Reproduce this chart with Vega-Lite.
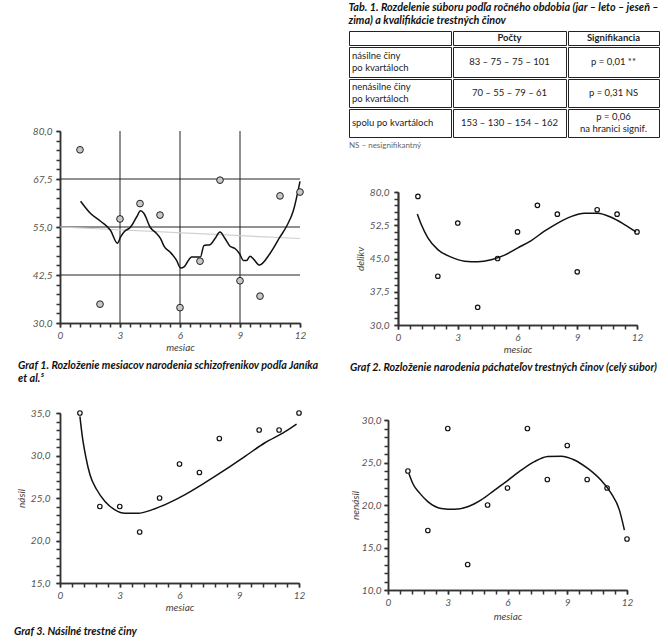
{
  "$schema": "https://vega.github.io/schema/vega-lite/v6.json",
  "padding": {"left": 14, "top": 2, "right": 0, "bottom": 0},
  "background": "white",
  "config": {
    "view": {"stroke": null},
    "font": "Lato",
    "locale": {"number": {"decimal": ",", "thousands": " ", "grouping": [3], "currency": ["", ""]}},
    "axis": {"labelFont": "Lato", "labelFontStyle": "italic", "labelFontSize": 10, "labelColor": "#555", "titleFont": "Lato", "titleFontStyle": "italic", "titleFontWeight": "normal", "titleFontSize": 10, "titleColor": "#444", "grid": false, "labelFlush": false},
    "title": {"font": "Lato", "fontSize": 10.8, "fontStyle": "italic", "fontWeight": "bold", "color": "#111", "anchor": "start"},
    "text": {"font": "Lato", "fontSize": 9.5, "color": "#222"}
  },
  "hconcat": [
    {
      "vconcat": [
        {"width": 1, "height": 95, "data": {"values": []}, "mark": {"type": "point", "opacity": 0}},
        {
          "width": 240, "height": 192,
          "title": {"text": ["Graf 1. Rozloženie mesiacov narodenia schizofrenikov podľa Janíka", "et al.⁵"], "orient": "bottom", "anchor": "start", "frame": "group", "dx": -42, "offset": 8, "lineHeight": 12.5},
          "resolve": {"axis": {"x": "independent", "y": "independent"}},
          "layer": [
            {"data": {"values": []}, "mark": {"type": "point"},
             "encoding": {
               "x": {"field": "m", "type": "quantitative", "scale": {"domain": [0, 12], "nice": false},
                 "axis": {"orient": "bottom", "title": null, "labels": false, "domain": true, "ticks": true, "domainColor": "#333", "domainWidth": 1.5, "tickColor": "#333", "tickWidth": 1.5, "tickSize": 4,
                   "values": [0,0.5,1,1.5,2,2.5,3,3.5,4,4.5,5,5.5,6,6.5,7,7.5,8,8.5,9,9.5,10,10.5,11,11.5,12]}},
               "y": {"field": "v", "type": "quantitative", "scale": {"domain": [30, 80], "nice": false, "zero": false},
                 "axis": {"orient": "left", "title": null, "labels": false, "domain": true, "ticks": true, "domainColor": "#333", "domainWidth": 1.5, "tickColor": "#333", "tickWidth": 1.5, "tickSize": 4,
                   "values": [30,32.5,35,37.5,40,42.5,45,47.5,50,52.5,55,57.5,60,62.5,65,67.5,70,72.5,75,77.5,80]}}}},
            {"data": {"values": []}, "mark": {"type": "point"},
             "encoding": {
               "x": {"field": "m", "type": "quantitative",
                 "axis": {"orient": "bottom", "title": "mesiac", "domain": true, "ticks": true, "domainColor": "#333", "domainWidth": 1.5, "tickColor": "#333", "tickWidth": 1.5, "tickSize": 4, "values": [0, 3, 6, 9, 12], "format": "d", "labelPadding": 3, "titlePadding": 2}},
               "y": {"field": "v", "type": "quantitative",
                 "axis": {"orient": "left", "title": null, "domain": true, "ticks": true, "domainColor": "#333", "domainWidth": 1.5, "tickColor": "#333", "tickWidth": 1.5, "tickSize": 4, "values": [30, 42.5, 55, 67.5, 80], "format": ".1f", "labelPadding": 4}}}},
            {"data": {"values": [{"v": 42.5}, {"v": 55}, {"v": 67.5}]}, "mark": {"type": "rule", "color": "#222", "strokeWidth": 1},
             "encoding": {"y": {"field": "v", "type": "quantitative", "axis": null}}},
            {"data": {"values": [{"m": 3}, {"m": 6}, {"m": 9}]}, "mark": {"type": "rule", "color": "#222", "strokeWidth": 1},
             "encoding": {"x": {"field": "m", "type": "quantitative", "axis": null}}},
            {"data": {"values": [{"m": 0, "v": 55.0}, {"m": 12, "v": 52.0}]}, "mark": {"type": "line", "color": "#cfcfcf", "strokeWidth": 1.2},
             "encoding": {"x": {"field": "m", "type": "quantitative", "axis": null}, "y": {"field": "v", "type": "quantitative", "axis": null}}},
            {"data": {"values": [
              {"m": 1.03, "v": 61.7}, {"m": 1.53, "v": 58.5}, {"m": 2.03, "v": 56.5}, {"m": 2.53, "v": 54.1}, {"m": 2.87, "v": 50.8},
              {"m": 3.03, "v": 52.4}, {"m": 3.2, "v": 53.7}, {"m": 3.53, "v": 55.0}, {"m": 3.83, "v": 57.6}, {"m": 4.03, "v": 59.2},
              {"m": 4.2, "v": 58.5}, {"m": 4.5, "v": 55.0}, {"m": 4.83, "v": 53.3}, {"m": 5.03, "v": 52.0}, {"m": 5.2, "v": 50.0},
              {"m": 5.5, "v": 48.5}, {"m": 5.83, "v": 46.3}, {"m": 6.03, "v": 44.3}, {"m": 6.2, "v": 44.6}, {"m": 6.37, "v": 45.9},
              {"m": 6.58, "v": 47.2}, {"m": 6.83, "v": 47.2}, {"m": 7.02, "v": 47.2}, {"m": 7.2, "v": 50.2}, {"m": 7.5, "v": 50.4},
              {"m": 7.75, "v": 52.0}, {"m": 8.0, "v": 53.7}, {"m": 8.25, "v": 52.0}, {"m": 8.5, "v": 50.0}, {"m": 8.75, "v": 49.4},
              {"m": 8.97, "v": 48.1}, {"m": 9.17, "v": 46.3}, {"m": 9.33, "v": 46.3}, {"m": 9.5, "v": 47.4}, {"m": 9.7, "v": 46.5},
              {"m": 9.97, "v": 45.1}, {"m": 10.5, "v": 48.1}, {"m": 11.0, "v": 52.4}, {"m": 11.33, "v": 55.2}, {"m": 11.67, "v": 59.3},
              {"m": 12.0, "v": 66.9}]},
             "mark": {"type": "line", "color": "#111", "strokeWidth": 1.5, "interpolate": "monotone"},
             "encoding": {"x": {"field": "m", "type": "quantitative", "axis": null}, "y": {"field": "v", "type": "quantitative", "axis": null}}},
            {"data": {"values": [
              {"m": 1, "v": 75.1}, {"m": 2, "v": 34.9}, {"m": 3, "v": 57.1}, {"m": 4, "v": 61.1}, {"m": 5, "v": 58.1}, {"m": 6, "v": 34.0},
              {"m": 7, "v": 46.1}, {"m": 8, "v": 67.2}, {"m": 9, "v": 41.0}, {"m": 10, "v": 37.0}, {"m": 11, "v": 63.1}, {"m": 12, "v": 64.1}]},
             "mark": {"type": "point", "shape": "circle", "filled": true, "fill": "#c8c8c8", "stroke": "#222", "strokeWidth": 1, "size": 45, "opacity": 1},
             "encoding": {"x": {"field": "m", "type": "quantitative", "axis": null}, "y": {"field": "v", "type": "quantitative", "axis": null}}}
          ]
        },
        {"width": 1, "height": 24, "data": {"values": []}, "mark": {"type": "point", "opacity": 0}},
        {
          "width": 239, "height": 170,
          "title": {"text": "Graf 3. Násilné trestné činy", "orient": "bottom", "anchor": "start", "frame": "group", "dx": -46, "offset": 14},
          "resolve": {"axis": {"x": "independent", "y": "independent"}},
          "layer": [
            {"data": {"values": []}, "mark": {"type": "point"},
             "encoding": {
               "x": {"field": "m", "type": "quantitative", "scale": {"domain": [0, 12], "nice": false},
                 "axis": {"orient": "bottom", "title": null, "labels": false, "domain": true, "ticks": true, "domainColor": "#333", "domainWidth": 1.5, "tickColor": "#333", "tickWidth": 1.5, "tickSize": 4,
                   "values": [0,0.6,1.2,1.8,2.4,3,3.6,4.2,4.8,5.4,6,6.6,7.2,7.8,8.4,9,9.6,10.2,10.8,11.4,12]}},
               "y": {"field": "v", "type": "quantitative", "scale": {"domain": [15, 35], "nice": false, "zero": false},
                 "axis": {"orient": "left", "title": null, "labels": false, "domain": true, "ticks": true, "domainColor": "#333", "domainWidth": 1.5, "tickColor": "#333", "tickWidth": 1.5, "tickSize": 4,
                   "values": [15,16,17,18,19,20,21,22,23,24,25,26,27,28,29,30,31,32,33,34,35]}}}},
            {"data": {"values": []}, "mark": {"type": "point"},
             "encoding": {
               "x": {"field": "m", "type": "quantitative",
                 "axis": {"orient": "bottom", "title": "mesiac", "domain": true, "ticks": true, "domainColor": "#333", "domainWidth": 1.5, "tickColor": "#333", "tickWidth": 1.5, "tickSize": 4, "values": [0, 3, 6, 9, 12], "format": "d", "labelPadding": 3, "titlePadding": 2}},
               "y": {"field": "v", "type": "quantitative",
                 "axis": {"orient": "left", "title": "násil", "domain": true, "ticks": true, "domainColor": "#333", "domainWidth": 1.5, "tickColor": "#333", "tickWidth": 1.5, "tickSize": 4, "values": [15, 20, 25, 30, 35], "format": ".1f", "labelPadding": 6, "titlePadding": 4}}}},
            {"data": {"values": [
              {"m": 1.0, "v": 34.6}, {"m": 1.12, "v": 32.25}, {"m": 1.29, "v": 29.9}, {"m": 1.51, "v": 27.7}, {"m": 1.84, "v": 26.0},
              {"m": 2.26, "v": 24.6}, {"m": 2.76, "v": 23.6}, {"m": 3.26, "v": 23.2}, {"m": 3.93, "v": 23.2}, {"m": 4.6, "v": 23.6},
              {"m": 5.44, "v": 24.4}, {"m": 6.28, "v": 25.4}, {"m": 7.28, "v": 26.8}, {"m": 8.28, "v": 28.3}, {"m": 9.29, "v": 29.9},
              {"m": 10.29, "v": 31.5}, {"m": 11.3, "v": 32.8}, {"m": 11.88, "v": 33.7}]},
             "mark": {"type": "line", "color": "#111", "strokeWidth": 1.5, "interpolate": "monotone"},
             "encoding": {"x": {"field": "m", "type": "quantitative", "axis": null}, "y": {"field": "v", "type": "quantitative", "axis": null}}},
            {"data": {"values": [
              {"m": 1, "v": 35}, {"m": 2, "v": 24}, {"m": 3, "v": 24}, {"m": 4, "v": 21}, {"m": 5, "v": 25}, {"m": 6, "v": 29},
              {"m": 7, "v": 28}, {"m": 8, "v": 32}, {"m": 10, "v": 33}, {"m": 11, "v": 33}, {"m": 12, "v": 35}]},
             "mark": {"type": "point", "shape": "circle", "filled": false, "color": "#111", "strokeWidth": 1.2, "size": 20, "opacity": 1},
             "encoding": {"x": {"field": "m", "type": "quantitative", "axis": null}, "y": {"field": "v", "type": "quantitative", "axis": null}}}
          ]
        }
      ],
      "spacing": 0
    },
    {
      "vconcat": [
        {
          "title": {"text": ["Tab. 1. Rozdelenie súboru podľa ročného obdobia (jar – leto – jeseň –", "zima) a kvalifikácie trestných činov"], "anchor": "start", "frame": "bounds", "offset": 5, "lineHeight": 12.5},
          "vconcat": [
            {"hconcat": [
              {"width": 102, "height": 14, "view": {"stroke": "#222", "strokeWidth": 1}, "data": {"values": [{"t": ""}]}, "mark": {"type": "text"}, "encoding": {"text": {"field": "t"}}},
              {"width": 113, "height": 14, "view": {"stroke": "#222", "strokeWidth": 1}, "data": {"values": [{"t": "Počty"}]}, "mark": {"type": "text", "fontWeight": "bold"}, "encoding": {"text": {"field": "t"}}},
              {"width": 91, "height": 14, "view": {"stroke": "#222", "strokeWidth": 1}, "data": {"values": [{"t": "Signifikancia"}]}, "mark": {"type": "text", "fontWeight": "bold"}, "encoding": {"text": {"field": "t"}}}
            ], "spacing": 0},
            {"hconcat": [
              {"width": 102, "height": 30, "view": {"stroke": "#222", "strokeWidth": 1}, "data": {"values": [{"t": "násilne činy\npo kvartáloch"}]}, "mark": {"type": "text", "align": "left", "x": 3, "dy": -6, "lineBreak": "\n", "lineHeight": 12}, "encoding": {"text": {"field": "t"}}},
              {"width": 113, "height": 30, "view": {"stroke": "#222", "strokeWidth": 1}, "data": {"values": [{"t": "83 – 75 – 75 – 101"}]}, "mark": {"type": "text"}, "encoding": {"text": {"field": "t"}}},
              {"width": 91, "height": 30, "view": {"stroke": "#222", "strokeWidth": 1}, "data": {"values": [{"t": "p = 0,01 **"}]}, "mark": {"type": "text"}, "encoding": {"text": {"field": "t"}}}
            ], "spacing": 0},
            {"hconcat": [
              {"width": 102, "height": 28, "view": {"stroke": "#222", "strokeWidth": 1}, "data": {"values": [{"t": "nenásilne činy\npo kvartáloch"}]}, "mark": {"type": "text", "align": "left", "x": 3, "dy": -6, "lineBreak": "\n", "lineHeight": 12}, "encoding": {"text": {"field": "t"}}},
              {"width": 113, "height": 28, "view": {"stroke": "#222", "strokeWidth": 1}, "data": {"values": [{"t": "70 – 55 – 79 – 61"}]}, "mark": {"type": "text"}, "encoding": {"text": {"field": "t"}}},
              {"width": 91, "height": 28, "view": {"stroke": "#222", "strokeWidth": 1}, "data": {"values": [{"t": "p = 0,31 NS"}]}, "mark": {"type": "text"}, "encoding": {"text": {"field": "t"}}}
            ], "spacing": 0},
            {"hconcat": [
              {"width": 102, "height": 28, "view": {"stroke": "#222", "strokeWidth": 1}, "data": {"values": [{"t": "spolu po kvartáloch"}]}, "mark": {"type": "text", "align": "left", "x": 3}, "encoding": {"text": {"field": "t"}}},
              {"width": 113, "height": 28, "view": {"stroke": "#222", "strokeWidth": 1}, "data": {"values": [{"t": "153 – 130 – 154 – 162"}]}, "mark": {"type": "text"}, "encoding": {"text": {"field": "t"}}},
              {"width": 91, "height": 28, "view": {"stroke": "#222", "strokeWidth": 1}, "data": {"values": [{"t": "p = 0,06\nna hranici signif."}]}, "mark": {"type": "text", "dy": -6, "lineBreak": "\n", "lineHeight": 12}, "encoding": {"text": {"field": "t"}}}
            ], "spacing": 0},
            {"width": 306, "height": 16, "data": {"values": [{"t": "NS – nesignifikantný"}]}, "mark": {"type": "text", "align": "left", "x": 0, "fontSize": 8, "color": "#666"}, "encoding": {"text": {"field": "t"}}}
          ],
          "spacing": 0
        },
        {"width": 1, "height": 33, "data": {"values": []}, "mark": {"type": "point", "opacity": 0}},
        {"hconcat": [
          {"width": 1, "height": 1, "data": {"values": []}, "mark": {"type": "point", "opacity": 0}},
          {
            "width": 239, "height": 133,
            "title": {"text": "Graf 2. Rozloženie narodenia páchateľov trestných činov (celý súbor)", "orient": "bottom", "anchor": "start", "frame": "group", "dx": -48, "offset": 8},
            "resolve": {"axis": {"x": "independent", "y": "independent"}},
            "layer": [
              {"data": {"values": []}, "mark": {"type": "point"},
               "encoding": {
                 "x": {"field": "m", "type": "quantitative", "scale": {"domain": [0, 12], "nice": false},
                   "axis": {"orient": "bottom", "title": null, "labels": false, "domain": true, "ticks": true, "domainColor": "#333", "domainWidth": 1.5, "tickColor": "#333", "tickWidth": 1.5, "tickSize": 4,
                     "values": [0,0.6,1.2,1.8,2.4,3,3.6,4.2,4.8,5.4,6,6.6,7.2,7.8,8.4,9,9.6,10.2,10.8,11.4,12]}},
                 "y": {"field": "v", "type": "quantitative", "scale": {"domain": [30, 60], "nice": false, "zero": false},
                   "axis": {"orient": "left", "title": null, "labels": false, "domain": true, "ticks": true, "domainColor": "#333", "domainWidth": 1.5, "tickColor": "#333", "tickWidth": 1.5, "tickSize": 4,
                     "values": [30,31.5,33,34.5,36,37.5,39,40.5,42,43.5,45,46.5,48,49.5,51,52.5,54,55.5,57,58.5,60]}}}},
              {"data": {"values": []}, "mark": {"type": "point"},
               "encoding": {
                 "x": {"field": "m", "type": "quantitative",
                   "axis": {"orient": "bottom", "title": "mesiac", "domain": true, "ticks": true, "domainColor": "#333", "domainWidth": 1.5, "tickColor": "#333", "tickWidth": 1.5, "tickSize": 4, "values": [0, 3, 6, 9, 12], "format": "d", "labelPadding": 3, "titlePadding": 2}},
                 "y": {"field": "v", "type": "quantitative",
                   "axis": {"orient": "left", "title": "delikv", "domain": true, "ticks": true, "domainColor": "#333", "domainWidth": 1.5, "tickColor": "#333", "tickWidth": 1.5, "tickSize": 4, "values": [30, 45, 60], "format": ".1f", "labelExpr": "datum.value == 60 ? '80,0' : datum.label", "labelPadding": 5, "titlePadding": 4}}}},
              {"data": {"values": []}, "mark": {"type": "point"},
               "encoding": {
                 "y": {"field": "v", "type": "quantitative",
                   "axis": {"orient": "left", "title": null, "domain": true, "ticks": true, "domainColor": "#333", "domainWidth": 1.5, "tickColor": "#333", "tickWidth": 1.5, "tickSize": 4, "values": [37.5, 52.5], "format": ".1f", "labelPadding": 5}}}},
              {"data": {"values": [
                {"m": 0.97, "v": 55.05}, {"m": 1.17, "v": 52.65}, {"m": 1.5, "v": 49.65}, {"m": 2.0, "v": 47.0}, {"m": 2.67, "v": 45.3},
                {"m": 3.34, "v": 44.4}, {"m": 4.01, "v": 44.25}, {"m": 4.68, "v": 44.7}, {"m": 5.35, "v": 45.75}, {"m": 6.02, "v": 47.4},
                {"m": 6.69, "v": 49.05}, {"m": 7.35, "v": 51.15}, {"m": 8.02, "v": 53.0}, {"m": 8.69, "v": 54.45}, {"m": 9.36, "v": 55.2},
                {"m": 10.03, "v": 55.2}, {"m": 10.7, "v": 54.3}, {"m": 11.37, "v": 52.65}, {"m": 11.95, "v": 51.0}]},
               "mark": {"type": "line", "color": "#111", "strokeWidth": 1.5, "interpolate": "monotone"},
               "encoding": {"x": {"field": "m", "type": "quantitative", "axis": null}, "y": {"field": "v", "type": "quantitative", "axis": null}}},
              {"data": {"values": [
                {"m": 1, "v": 59}, {"m": 2, "v": 41}, {"m": 3, "v": 53}, {"m": 4, "v": 34}, {"m": 5, "v": 45}, {"m": 6, "v": 51},
                {"m": 7, "v": 57}, {"m": 8, "v": 55}, {"m": 9, "v": 42}, {"m": 10, "v": 56}, {"m": 11, "v": 55}, {"m": 12, "v": 51}]},
               "mark": {"type": "point", "shape": "circle", "filled": false, "color": "#111", "strokeWidth": 1.2, "size": 20, "opacity": 1},
               "encoding": {"x": {"field": "m", "type": "quantitative", "axis": null}, "y": {"field": "v", "type": "quantitative", "axis": null}}}
            ]
          }
        ], "spacing": 0},
        {"width": 1, "height": 42, "data": {"values": []}, "mark": {"type": "point", "opacity": 0}},
        {"hconcat": [
          {"width": 1, "height": 1, "data": {"values": []}, "mark": {"type": "point", "opacity": 0}},
          {
            "width": 239, "height": 170,
            "resolve": {"axis": {"x": "independent", "y": "independent"}},
            "layer": [
              {"data": {"values": []}, "mark": {"type": "point"},
               "encoding": {
                 "x": {"field": "m", "type": "quantitative", "scale": {"domain": [0, 12], "nice": false},
                   "axis": {"orient": "bottom", "title": null, "labels": false, "domain": true, "ticks": true, "domainColor": "#333", "domainWidth": 1.5, "tickColor": "#333", "tickWidth": 1.5, "tickSize": 4,
                     "values": [0,0.6,1.2,1.8,2.4,3,3.6,4.2,4.8,5.4,6,6.6,7.2,7.8,8.4,9,9.6,10.2,10.8,11.4,12]}},
                 "y": {"field": "v", "type": "quantitative", "scale": {"domain": [10, 30], "nice": false, "zero": false},
                   "axis": {"orient": "left", "title": null, "labels": false, "domain": true, "ticks": true, "domainColor": "#333", "domainWidth": 1.5, "tickColor": "#333", "tickWidth": 1.5, "tickSize": 4,
                     "values": [10,11,12,13,14,15,16,17,18,19,20,21,22,23,24,25,26,27,28,29,30]}}}},
              {"data": {"values": []}, "mark": {"type": "point"},
               "encoding": {
                 "x": {"field": "m", "type": "quantitative",
                   "axis": {"orient": "bottom", "title": "mesiac", "domain": true, "ticks": true, "domainColor": "#333", "domainWidth": 1.5, "tickColor": "#333", "tickWidth": 1.5, "tickSize": 4, "values": [0, 3, 6, 9, 12], "format": "d", "labelPadding": 3, "titlePadding": 4}},
                 "y": {"field": "v", "type": "quantitative",
                   "axis": {"orient": "left", "title": "nenásil", "domain": true, "ticks": true, "domainColor": "#333", "domainWidth": 1.5, "tickColor": "#333", "tickWidth": 1.5, "tickSize": 4, "values": [10, 15, 20, 25, 30], "format": ".1f", "labelPadding": 3, "titlePadding": 1}}}},
              {"data": {"values": [
                {"m": 1.05, "v": 23.7}, {"m": 1.25, "v": 22.5}, {"m": 1.59, "v": 21.4}, {"m": 2.0, "v": 20.4}, {"m": 2.67, "v": 19.6},
                {"m": 3.34, "v": 19.5}, {"m": 4.0, "v": 19.8}, {"m": 4.68, "v": 20.6}, {"m": 5.35, "v": 21.75}, {"m": 6.02, "v": 22.9},
                {"m": 6.69, "v": 24.1}, {"m": 7.35, "v": 25.1}, {"m": 8.02, "v": 25.7}, {"m": 8.69, "v": 25.75}, {"m": 9.36, "v": 25.3},
                {"m": 10.03, "v": 24.3}, {"m": 10.7, "v": 22.9}, {"m": 11.2, "v": 21.4}, {"m": 11.62, "v": 19.4}, {"m": 11.87, "v": 17.05}]},
               "mark": {"type": "line", "color": "#111", "strokeWidth": 1.5, "interpolate": "monotone"},
               "encoding": {"x": {"field": "m", "type": "quantitative", "axis": null}, "y": {"field": "v", "type": "quantitative", "axis": null}}},
              {"data": {"values": [
                {"m": 1, "v": 24}, {"m": 2, "v": 17}, {"m": 3, "v": 29}, {"m": 4, "v": 13}, {"m": 5, "v": 20}, {"m": 6, "v": 22},
                {"m": 7, "v": 29}, {"m": 8, "v": 23}, {"m": 9, "v": 27}, {"m": 10, "v": 23}, {"m": 11, "v": 22}, {"m": 12, "v": 16}]},
               "mark": {"type": "point", "shape": "circle", "filled": false, "color": "#111", "strokeWidth": 1.2, "size": 20, "opacity": 1},
               "encoding": {"x": {"field": "m", "type": "quantitative", "axis": null}, "y": {"field": "v", "type": "quantitative", "axis": null}}}
            ]
          }
        ], "spacing": 0}
      ],
      "spacing": 0
    }
  ],
  "spacing": 28
}
